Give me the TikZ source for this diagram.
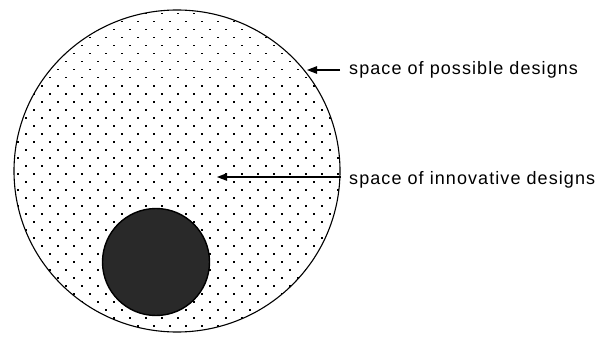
\documentclass[tikz,border=0pt]{standalone}
\usepackage{fontspec}
\setmainfont[LetterSpace=6]{Liberation Sans}
\usetikzlibrary{arrows.meta,shapes.geometric}
\tikzset{
  label text/.style={inner sep=0pt, anchor=base west, font=\fontsize{18}{20}\selectfont},
  pointer/.style={line width=1.3pt, -{Triangle[length=10pt,width=7.5pt]}},
  dot/.style={fill=black}
}
\begin{document}
\begin{tikzpicture}[x=1pt,y=-1pt]
\useasboundingbox (0,0) rectangle (597,337);
% dotted fill of the space of possible designs
\begin{scope}
  \clip (177,171) ellipse [x radius=163, y radius=161];
  \foreach \m in {0,...,21}{
    \foreach \n in {0,...,20}{
      \fill[dot] (9+16*\m,5+16*\n) rectangle ++(1.5,1.5);
      \fill[dot] (17+16*\m,13+16*\n) rectangle ++(1.5,1.5);
    }
  }
\end{scope}
\node[draw=black, line width=1.1pt, ellipse, minimum width=326pt, minimum height=322pt, inner sep=0pt] (big) at (177,171) {};
\node[draw=black, fill=black!84, line width=1.4pt, circle, minimum size=107pt, inner sep=0pt] (small) at (156,262) {};
\node[label text] (t1) at (349,74.5) {space of possible designs};
\node[label text] (t2) at (349,184) {space of innovative designs};
\coordinate (s1) at (340,70);
\coordinate (e1) at (307,70);
\coordinate (s2) at (341,177);
\coordinate (e2) at (217,177);
\draw[pointer] (s1) -- (e1);
\draw[pointer] (s2) -- (e2);
\end{tikzpicture}
\end{document}
